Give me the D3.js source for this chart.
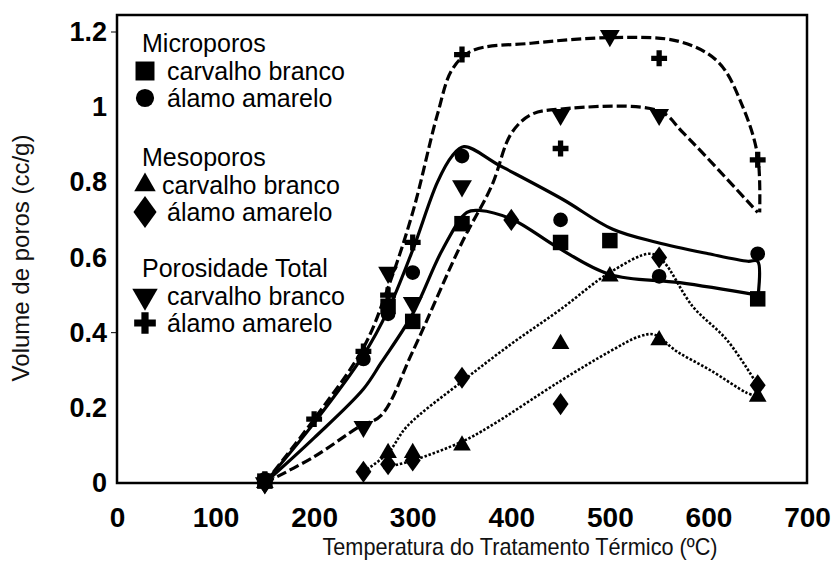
<!DOCTYPE html>
<html><head><meta charset="utf-8">
<script src="https://cdn.jsdelivr.net/npm/d3@7"></script>
<style>body{margin:0;background:#fff}svg{display:block}</style>
</head><body><div id="chart"></div>
<script>
// ---- data ----
const xTicks = [0,100,200,300,400,500,600,700];
const yTicks = [0,0.2,0.4,0.6,0.8,1,1.2];
const yTickLabels = ["0","0.2","0.4","0.6","0.8","1","1.2"];

// markers: [temperature (ºC), pore volume (cc/g)]
const microCarvalho = [[150,0.005],[275,0.47],[300,0.43],[350,0.69],[450,0.64],[500,0.645],[650,0.49]];
const microAlamo    = [[150,0.01],[250,0.33],[275,0.45],[300,0.56],[350,0.87],[450,0.70],[550,0.55],[650,0.61]];
const mesoCarvalho  = [[150,0],[275,0.08],[300,0.08],[350,0.10],[450,0.37],[500,0.55],[550,0.38],[650,0.23]];
const mesoAlamo     = [[150,0],[250,0.03],[275,0.05],[300,0.06],[350,0.28],[400,0.70],[450,0.21],[550,0.60],[650,0.26]];
const totalCarvalho = [[150,0],[250,0.15],[275,0.56],[300,0.48],[350,0.79],[450,0.98],[500,1.19],[550,0.98]];
const totalAlamo    = [[150,0.01],[200,0.17],[250,0.35],[275,0.50],[300,0.64],[350,1.14],[450,0.89],[550,1.13],[650,0.86]];

// fitted curves
const fitMicroAlamo    = [[150,0],[200,0.16],[250,0.34],[275,0.46],[300,0.62],[325,0.80],[340,0.87],[352,0.895],[388,0.845],[452,0.755],[503,0.675],[548,0.64],[600,0.61],[640,0.59],[650,0.59],[650,0.49]];
const fitMicroCarvalho = [[150,0],[200,0.12],[250,0.25],[268,0.32],[300,0.45],[330,0.62],[355,0.72],[368,0.725],[402,0.70],[447,0.627],[500,0.555],[571,0.533],[650,0.50]];
const fitMesoAlamo     = [[250,0.03],[275,0.08],[294,0.15],[350,0.27],[400,0.37],[449,0.46],[500,0.56],[541,0.61],[554,0.59],[584,0.47],[619,0.38],[650,0.26]];
const fitMesoCarvalho  = [[270,0.04],[300,0.06],[350,0.11],[378,0.15],[449,0.27],[500,0.35],[530,0.39],[545,0.395],[568,0.35],[602,0.30],[639,0.24],[650,0.23]];
const fitTotalCarvalho = [[150,0],[200,0.07],[246,0.15],[268,0.18],[300,0.35],[350,0.64],[380,0.79],[400,0.93],[420,0.98],[450,0.995],[550,0.99],[575,0.93],[650,0.72]];
const fitTotalAlamo    = [[150,0],[200,0.17],[250,0.36],[275,0.52],[300,0.72],[325,0.98],[340,1.10],[360,1.15],[420,1.17],[500,1.185],[570,1.175],[610,1.12],[635,1.00],[650,0.87],[652,0.72]];

const legendGroups = ["Microporos","Mesoporos","Porosidade Total"];
const legendItems = ["carvalho branco","álamo amarelo"];

// ---- drawing ----
const W=840,H=574;
const svg=d3.select("#chart").append("svg").attr("width",W).attr("height",H);
const L=117,R=807,T=15,B=483;
const x=d3.scaleLinear().domain([0,700]).range([L,R]);
const y=d3.scaleLinear().domain([0,1.2]).range([B,32]);

svg.append("rect").attr("x",L).attr("y",T).attr("width",R-L).attr("height",B-T)
  .attr("fill","none").attr("stroke","#000").attr("stroke-width",2.5);

const font="'Liberation Sans', Arial, Helvetica, sans-serif";
const xa=svg.append("g").attr("transform",`translate(0,${B})`)
  .call(d3.axisBottom(x).tickValues(xTicks).tickSize(0).tickPadding(24));
xa.select(".domain").remove();
xa.selectAll("text").attr("font-family",font).attr("font-size",28).attr("font-weight","bold").attr("fill","#000");

const ya=svg.append("g").attr("transform",`translate(${L},0)`)
  .call(d3.axisLeft(y).tickValues(yTicks).tickFormat((d,i)=>yTickLabels[i]).tickSize(0).tickPadding(10));
ya.select(".domain").remove();
ya.selectAll("text").attr("font-family",font).attr("font-size",27).attr("font-weight","bold").attr("fill","#000");
[1.2,0.4].forEach(v=>svg.append("line").attr("x1",L-6).attr("x2",L).attr("y1",y(v)).attr("y2",y(v)).attr("stroke","#000").attr("stroke-width",1));

svg.append("text").attr("x",520).attr("y",555).attr("text-anchor","middle")
  .attr("font-family",font).attr("font-size",24).attr("fill","#111")
  .attr("textLength",395).attr("lengthAdjust","spacingAndGlyphs")
  .text("Temperatura do Tratamento Térmico (ºC)");
svg.append("text").attr("transform",`translate(29,258) rotate(-90)`).attr("text-anchor","middle")
  .attr("font-family",font).attr("font-size",24).attr("fill","#111")
  .text("Volume de poros (cc/g)");

// curves
const line=d3.line().x(d=>x(d[0])).y(d=>y(d[1])).curve(d3.curveCatmullRom.alpha(0.5));
const curves=[
  [fitMicroAlamo,null,3.2],[fitMicroCarvalho,null,3.2],
  [fitMesoAlamo,"2.5,1.8",2.6],[fitMesoCarvalho,"2.5,1.8",2.6],
  [fitTotalCarvalho,"10,4",3.2],[fitTotalAlamo,"10,4",3.2]
];
curves.forEach(([d,dash,w])=>{
  svg.append("path").attr("d",line(d)).attr("fill","none").attr("stroke","#000")
    .attr("stroke-width",w).attr("stroke-dasharray",dash);
});

// custom wide diamond
const wideDiamond={draw(ctx,size){const h=Math.sqrt(size)*0.6,w=h*0.72;ctx.moveTo(0,-h);ctx.lineTo(w,0);ctx.lineTo(0,h);ctx.lineTo(-w,0);ctx.closePath();}};
const shapes={
  sq:{type:d3.symbolSquare,rot:0},
  ci:{type:d3.symbolCircle,rot:0},
  tr:{type:d3.symbolTriangle,rot:0},
  di:{type:wideDiamond,rot:0},
  it:{type:d3.symbolTriangle,rot:180},
  pl:{type:d3.symbolCross,rot:0}
};
const dataSize={sq:240,ci:170,tr:135,di:340,it:170,pl:140};
const legSize={sq:360,ci:260,tr:200,di:720,it:280,pl:260};
function drawSym(g,key,cx,cy,size){
  const s=shapes[key];
  g.append("path").attr("d",d3.symbol().type(s.type).size(size)())
   .attr("transform",`translate(${cx},${cy}) rotate(${s.rot})`).attr("fill","#000");
}
const series=[[microCarvalho,"sq"],[microAlamo,"ci"],[mesoCarvalho,"tr"],[mesoAlamo,"di"],[totalCarvalho,"it"],[totalAlamo,"pl"]];
const mg=svg.append("g");
series.forEach(([d,k])=>d.forEach(p=>drawSym(mg,k,x(p[0]),y(p[1]),dataSize[k])));

// legend
const lg=svg.append("g");
const groupY=[43,157,268];
const keys=[["sq","ci"],["tr","di"],["it","pl"]];
const textX=[[167,167],[162,167],[167,167]];
legendGroups.forEach((g,i)=>{
  lg.append("text").attr("x",142).attr("y",groupY[i]).attr("dy","0.35em")
    .attr("font-family",font).attr("font-size",25).text(g);
  legendItems.forEach((it,j)=>{
    const yy=groupY[i]+28+j*27;
    drawSym(lg,keys[i][j],145,yy,legSize[keys[i][j]]);
    lg.append("text").attr("x",textX[i][j]).attr("y",yy).attr("dy","0.35em")
      .attr("font-family",font).attr("font-size",25).text(it);
  });
});
</script></body></html>
